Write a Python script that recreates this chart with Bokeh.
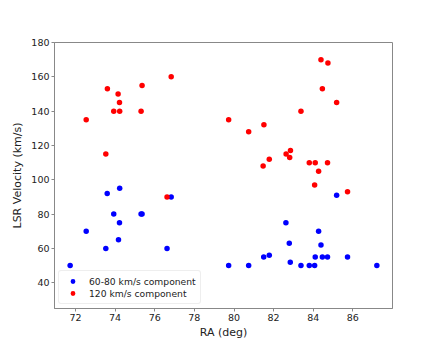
from bokeh.plotting import figure
from bokeh.models import Range1d, FixedTicker, Legend, LegendItem, ColumnDataSource
from bokeh.embed import file_html
from bokeh.resources import INLINE

# Data
ra_6080 = [71.73, 72.54, 73.53, 73.60, 73.93, 74.17, 74.22, 74.23, 75.31, 75.36,
           76.62, 76.83, 79.73, 80.74, 81.50, 81.78, 82.62, 82.79, 82.84, 83.38,
           83.80, 84.07, 84.10, 84.27, 84.39, 84.46, 84.72, 85.18, 85.73, 87.21]
v_6080 = [50, 70, 60, 92, 80, 65, 75, 95, 80, 80,
          60, 90, 50, 50, 55, 56, 75, 63, 52, 50,
          50, 50, 55, 70, 62, 55, 55, 91, 55, 50]

ra_120 = [72.54, 73.53, 73.61, 73.93, 74.15, 74.22, 74.23, 75.31, 75.36, 76.62,
          76.83, 79.73, 80.74, 81.47, 81.51, 81.78, 82.63, 82.81, 82.85, 83.38,
          83.80, 84.07, 84.10, 84.27, 84.39, 84.46, 84.72, 84.74, 85.18, 85.73]
v_120 = [135, 115, 153, 140, 150, 145, 140, 140, 155, 90,
         160, 135, 128, 108, 132, 112, 115, 113, 117, 140,
         110, 97, 110, 105, 170, 153, 110, 168, 145, 93]

x_ticks = [72, 74, 76, 78, 80, 82, 84, 86]
y_ticks = [40, 60, 80, 100, 120, 140, 160, 180]

FONT = "DejaVu Sans"

p = figure(width=420, height=341, output_backend="svg", toolbar_location=None,
           x_range=Range1d(70.94, 88.0), y_range=Range1d(25, 180),
           min_border_left=54, min_border_right=28, min_border_top=42, min_border_bottom=31)

p.background_fill_color = "white"
p.border_fill_color = "white"
p.outline_line_color = "#888888"
p.outline_line_width = 1
p.xgrid.visible = False
p.ygrid.visible = False

src_b = ColumnDataSource(dict(x=ra_6080, y=v_6080))
src_r = ColumnDataSource(dict(x=ra_120, y=v_120))
rb = p.scatter("x", "y", source=src_b, size=5.5, color="#0000ff", line_color=None)
rr = p.scatter("x", "y", source=src_r, size=5.5, color="#ff0000", line_color=None)

for ax in (p.xaxis[0], p.yaxis[0]):
    ax.axis_line_color = "#888888"
    ax.major_tick_line_color = "#888888"
    ax.major_tick_out = 3
    ax.major_tick_in = 0
    ax.minor_tick_line_color = None
    ax.major_label_text_font = FONT
    ax.major_label_text_font_size = "9.5px"
    ax.major_label_text_color = "#222222"
    ax.axis_label_text_font = FONT
    ax.axis_label_text_font_size = "11px"
    ax.axis_label_text_font_style = "normal"
    ax.axis_label_text_color = "#222222"
    ax.major_label_standoff = 2

p.xaxis.ticker = FixedTicker(ticks=x_ticks)
p.yaxis.ticker = FixedTicker(ticks=y_ticks)
p.xaxis.axis_label = "RA (deg)"
p.yaxis.axis_label = "LSR Velocity (km/s)"
p.xaxis.axis_label_standoff = 2
p.yaxis.axis_label_standoff = 4

legend = Legend(items=[LegendItem(label="60-80 km/s component", renderers=[rb]),
                       LegendItem(label="120 km/s component", renderers=[rr])],
                location="bottom_left")
legend.margin = 4
legend.padding = 4
legend.spacing = 0
legend.glyph_width = 19
legend.glyph_height = 12
legend.label_height = 12
legend.label_standoff = 7
legend.label_text_font = FONT
legend.label_text_font_size = "9.2px"
legend.label_text_color = "#222222"
legend.border_line_color = "#dddddd"
legend.border_line_width = 1
legend.border_radius = 3
legend.background_fill_alpha = 0.8
p.add_layout(legend)

open("out.html", "w").write(file_html(p, INLINE))
